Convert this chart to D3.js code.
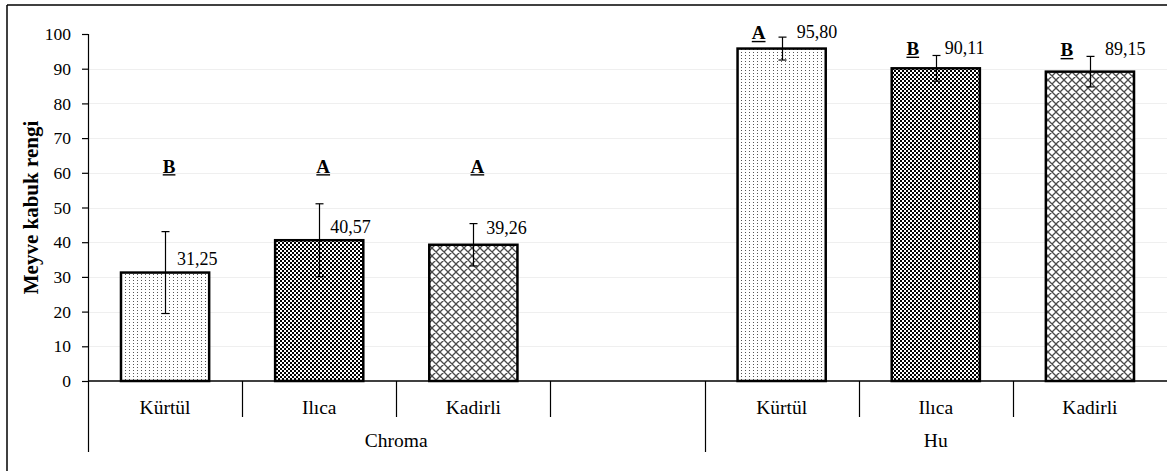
<!DOCTYPE html>
<html>
<head>
<meta charset="utf-8">
<script src="https://cdn.jsdelivr.net/npm/d3@7/dist/d3.min.js"></script>
<style>
  html, body { margin: 0; padding: 0; background: #fff; }
  svg { display: block; }
</style>
</head>
<body>
<svg id="chart" width="1167" height="471"></svg>
<script>
// Fruit skin colour measurements (Chroma and Hue angle) for three cultivars
const groups = ["Chroma", "Hu"];
const cultivars = ["Kürtül", "Ilıca", "Kadirli"];
const chromaValues = [31.25, 40.57, 39.26];
const chromaErrors = [11.8, 10.5, 6.1];
const chromaLetters = ["B", "A", "A"];
const huValues = [95.80, 90.11, 89.15];
const huErrors = [3.3, 3.7, 4.4];
const huLetters = ["A", "B", "B"];
const yTicks = [0, 10, 20, 30, 40, 50, 60, 70, 80, 90, 100];
const yTitle = "Meyve kabuk rengi";

// Layout
const W = 1167, H = 471;
const FONT = '"Liberation Serif"';
const plot = { left: 88, right: 1167, top: 34, bottom: 381 };
// hand-placed nudges for the value labels (px from bar centre / bar top)
const labelNudge = [[12, -14], [11, -14], [13, -17], [15, -17], [9, -21], [15, -23]];
const patternIds = ["dots", "checker", "cross"];

// One slot per bar, plus an empty slot closing the Chroma group
const slots = [];
cultivars.forEach((c, i) => slots.push({ group: "Chroma", cultivar: c, value: chromaValues[i], err: chromaErrors[i], letter: chromaLetters[i], idx: i }));
slots.push({ group: "Chroma", cultivar: "", value: null });
cultivars.forEach((c, i) => slots.push({ group: "Hu", cultivar: c, value: huValues[i], err: huErrors[i], letter: huLetters[i], idx: i }));
slots.forEach((s, i) => s.key = i);

const svg = d3.select("#chart").style("font-family", FONT);

const x = d3.scaleBand().domain(slots.map(s => s.key)).range([plot.left, plot.right]).paddingInner(0).paddingOuter(0);
const y = d3.scaleLinear().domain([0, 100]).range([plot.bottom, plot.top]);

const fmt = d3.formatLocale({ decimal: ",", thousands: ".", grouping: [3], currency: ["", ""] }).format(".2f");

const addText = (sel) => sel.append("text").style("font-family", FONT).attr("fill", "#000");

// Fill patterns
const defs = svg.append("defs");
const pDots = defs.append("pattern").attr("id", "dots").attr("patternUnits", "userSpaceOnUse").attr("width", 4).attr("height", 3);
pDots.append("rect").attr("width", 4).attr("height", 3).attr("fill", "#fff");
pDots.append("rect").attr("x", 1).attr("y", 1).attr("width", 1).attr("height", 1).attr("fill", "#555");

const pCheck = defs.append("pattern").attr("id", "checker").attr("patternUnits", "userSpaceOnUse").attr("width", 4).attr("height", 4);
pCheck.append("rect").attr("width", 4).attr("height", 4).attr("fill", "#fff");
pCheck.append("rect").attr("x", 0).attr("y", 0).attr("width", 2).attr("height", 2).attr("fill", "#000");
pCheck.append("rect").attr("x", 2).attr("y", 2).attr("width", 2).attr("height", 2).attr("fill", "#000");

const pCross = defs.append("pattern").attr("id", "cross").attr("patternUnits", "userSpaceOnUse").attr("width", 8).attr("height", 8);
pCross.append("rect").attr("width", 8).attr("height", 8).attr("fill", "#fff");
pCross.append("path").attr("d", "M0,0L8,8M8,0L0,8M-1,1L1,-1M7,9L9,7M-1,7L1,9M7,-1L9,1")
  .attr("stroke", "#4a4a4a").attr("stroke-width", 1.3).attr("fill", "none");

// Outer frame (top and left edges)
svg.append("line").attr("x1", 7).attr("x2", W).attr("y1", 5).attr("y2", 5).attr("stroke", "#000").attr("stroke-width", 1.5);
svg.append("line").attr("x1", 7).attr("x2", 7).attr("y1", 5).attr("y2", H).attr("stroke", "#000").attr("stroke-width", 1.5);

// Gridlines
svg.append("g").selectAll("line").data(yTicks.filter(t => t > 0 && t < 100)).join("line")
  .attr("x1", plot.left).attr("x2", plot.right)
  .attr("y1", d => Math.round(y(d)) + 0.5).attr("y2", d => Math.round(y(d)) + 0.5)
  .attr("stroke", "#efefef").attr("stroke-width", 1);

// Y axis
const yAxis = svg.append("g").attr("transform", `translate(${plot.left},0)`)
  .call(d3.axisLeft(y).tickValues(yTicks).tickSize(6).tickPadding(11).tickFormat(d3.format("d")));
yAxis.attr("font-family", null).attr("font-size", null);
yAxis.select(".domain").attr("stroke", "#000").attr("stroke-width", 1.2);
yAxis.selectAll(".tick line").attr("stroke", "#000").attr("stroke-width", 1.2);
yAxis.selectAll(".tick text").style("font-family", FONT).style("font-size", "17.5px").attr("fill", "#000");

addText(svg)
  .attr("transform", `translate(31,${(plot.top + plot.bottom) / 2}) rotate(-90)`)
  .attr("text-anchor", "middle").attr("dy", "0.35em")
  .style("font-size", "21px").attr("font-weight", "bold")
  .text(yTitle);

// Bars
const barW = x.bandwidth() * 0.572;
const bars = slots.filter(s => s.value !== null);
const cx = s => x(s.key) + x.bandwidth() / 2;

svg.append("g").selectAll("rect").data(bars).join("rect")
  .attr("x", s => cx(s) - barW / 2)
  .attr("y", s => y(s.value))
  .attr("width", barW)
  .attr("height", s => y(0) - y(s.value))
  .attr("fill", s => `url(#${patternIds[s.idx]})`)
  .attr("stroke", "#000").attr("stroke-width", 2.5);

// Error bars
const eb = svg.append("g").attr("stroke", "#000").attr("stroke-width", 1.2);
bars.forEach(s => {
  const c = Math.round(cx(s)) + 0.5;
  eb.append("line").attr("x1", c).attr("x2", c).attr("y1", y(s.value + s.err)).attr("y2", y(s.value - s.err));
  eb.append("line").attr("x1", c - 4).attr("x2", c + 4).attr("y1", y(s.value + s.err)).attr("y2", y(s.value + s.err));
  eb.append("line").attr("x1", c - 4).attr("x2", c + 4).attr("y1", y(s.value - s.err)).attr("y2", y(s.value - s.err));
});

// Value labels
bars.forEach((s, i) => {
  s.labelY = y(s.value) + labelNudge[i][1];
  addText(svg)
    .attr("x", cx(s) + labelNudge[i][0]).attr("y", s.labelY).attr("dy", "0.35em")
    .style("font-size", "18px").text(fmt(s.value));
});

// Significance letters (bold, underlined)
bars.forEach(s => {
  const lx = s.group === "Chroma" ? cx(s) + 4 : cx(s) - 23;
  const ly = s.group === "Chroma" ? y(62) : s.labelY + 1;
  const t = addText(svg).attr("x", lx).attr("y", ly).attr("dy", "0.35em")
    .attr("text-anchor", "middle").style("font-size", "19px").attr("font-weight", "bold").text(s.letter);
  const w = t.node().getComputedTextLength();
  svg.append("line").attr("x1", lx - w / 2).attr("x2", lx + w / 2)
    .attr("y1", ly + 9).attr("y2", ly + 9).attr("stroke", "#000").attr("stroke-width", 1.4);
});

// X axis: baseline, slot separators and group separators
svg.append("line").attr("x1", plot.left).attr("x2", plot.right).attr("y1", plot.bottom).attr("y2", plot.bottom)
  .attr("stroke", "#000").attr("stroke-width", 1.5);

const sepG = svg.append("g").attr("stroke", "#000").attr("stroke-width", 1.2);
slots.forEach((s, i) => {
  const xs = Math.round(x(s.key)) + 0.5;
  const groupStart = i === 0 || slots[i - 1].group !== s.group;
  sepG.append("line").attr("x1", xs).attr("x2", xs).attr("y1", plot.bottom).attr("y2", groupStart ? 452 : 417);
});

slots.filter(s => s.cultivar).forEach(s => {
  addText(svg).attr("x", cx(s)).attr("y", 407).attr("dy", "0.35em")
    .attr("text-anchor", "middle").style("font-size", "19.5px")
    .text(s.cultivar);
});

groups.forEach(g => {
  const gs = slots.filter(s => s.group === g);
  const x0 = x(gs[0].key), x1 = x(gs[gs.length - 1].key) + x.bandwidth();
  addText(svg).attr("x", (x0 + x1) / 2).attr("y", 440).attr("dy", "0.35em")
    .attr("text-anchor", "middle").style("font-size", "19.5px").text(g);
});
</script>
</body>
</html>
